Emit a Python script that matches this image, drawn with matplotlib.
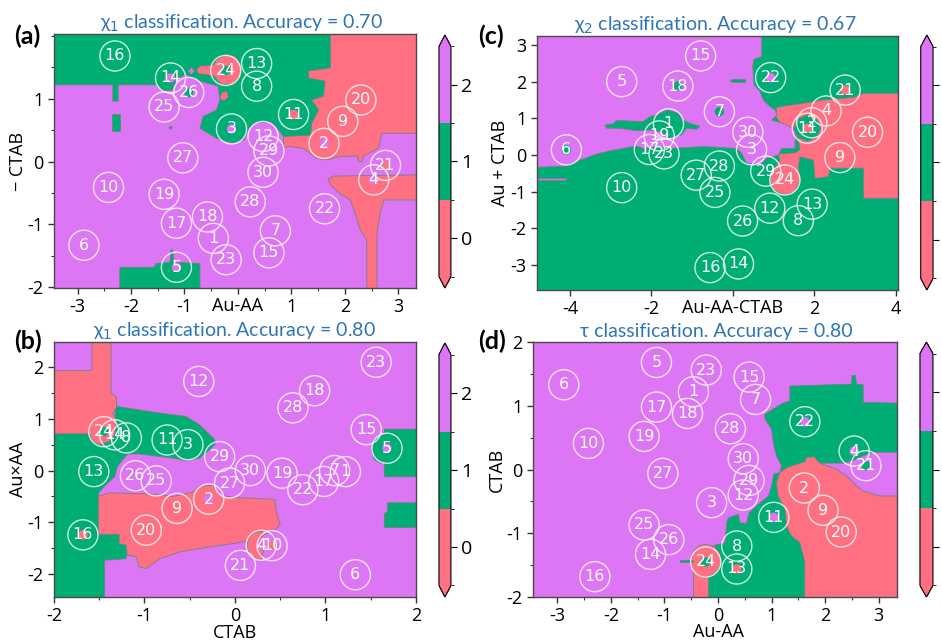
import matplotlib.pyplot as plt
from matplotlib.colors import ListedColormap, BoundaryNorm
from matplotlib.cm import ScalarMappable
from matplotlib.patches import Polygon
from matplotlib.ticker import MultipleLocator

plt.rcParams['font.family'] = ['Open Sans', 'DejaVu Sans']
plt.rcParams['axes.unicode_minus'] = False

PINK = '#ff7082'
GREEN = '#00ad74'
PURPLE = '#dd76f4'
class_colors = [PINK, GREEN, PURPLE]
EDGE = '#6f8580'
TITLE_BLUE = '#2e75b6'

# sample descriptors (samples 1..30)
sample_ids = list(range(1, 31))
au_aa = [-0.46, 1.61, -0.12, 2.54, -1.15, -2.88, 0.70, 0.35, 1.96, -2.42,
         1.04, 0.47, 0.35, -1.26, 0.58, -2.30, -1.15, -0.57, -1.38, 2.30,
         2.76, 1.62, -0.22, -0.23, -1.38, -0.92, -1.03, 0.23, 0.58, 0.47]
ctab = [1.22, -0.29, -0.52, 0.29, 1.68, 1.33, 1.10, -1.20, -0.64, 0.41,
        -0.75, -0.40, -1.56, -1.33, 1.45, -1.68, 0.98, 0.88, 0.52, -0.98,
        0.06, 0.75, 1.56, -1.45, -0.87, -1.10, -0.06, 0.64, -0.17, 0.17]
au_x_aa = [-0.02, -0.55, 0.50, -1.44, 0.43, -2.01, 0.0, 0.63, -0.73, -1.45,
           0.59, 1.72, -0.02, 0.69, 0.79, -1.24, -0.21, 1.54, -0.05, -1.15,
           -1.83, -0.37, 2.09, 0.75, -0.20, -0.10, -0.24, 1.21, 0.27, 0.0]
au_aa_ctab = [-1.58, 1.94, 0.46, 2.29, -2.73, -4.09, -0.33, 1.61, 2.63, -2.73,
              1.83, 0.91, 1.95, 0.14, -0.79, -0.56, -2.05, -1.35, -1.81, 3.31,
              2.76, 0.93, -1.69, 1.28, -0.44, 0.24, -0.90, -0.33, 0.81, 0.37]
au_plus_ctab = [0.85, 0.88, 0.14, 1.20, 2.00, 0.14, 1.18, -1.79, -0.07, -0.89,
                0.73, -1.45, -1.34, -2.97, 2.70, -3.07, 0.15, 1.88, 0.52, 0.62,
                1.77, 2.11, 0.03, -0.68, -1.02, -1.80, -0.55, -0.30, -0.44, 0.62]
minus_ctab = [-v for v in ctab]

# samples whose true class differs from the predicted region: id -> true class
wrong_a = {14: 2, 26: 1, 24: 1, 3: 2, 11: 0, 2: 2, 21: 0, 4: 2, 5: 2}
wrong_b = {24: 1, 5: 2, 2: 2, 16: 0, 10: 0, 4: 2}
wrong_c = {18: 1, 22: 2, 21: 0, 7: 1, 6: 1, 11: 0}
wrong_d = {22: 2, 4: 2, 21: 1, 11: 2, 24: 1, 13: 0}

accuracy = {'a': 0.70, 'b': 0.80, 'c': 0.67, 'd': 0.80}

# decision regions: (class, outline) painted in order over the background class
regions_a = [
    (0, [(1.73, 2.1), (3.4, 2.1), (3.4, 0.45), (2.69, 0.45), (2.66, 0.32), (2.63, 0.21),
         (2.35, 0.09), (2.32, 0.0), (2.26, 0.0), (2.23, 0.09), (1.91, 0.08), (1.66, 0.03),
         (1.475, 0.05), (1.225, 0.21), (0.975, 0.24), (0.85, 0.22), (0.85, 0.42), (1.3, 0.6),
         (1.3, 2.1)]),
    (0, [(1.69, -0.27), (1.79, -0.23), (3.4, -0.21), (3.4, -0.61), (2.73, -0.61), (2.66, -0.82),
         (2.60, -1.14), (2.60, -2.1), (2.41, -2.1), (2.41, -1.25), (2.29, -1.09), (2.19, -0.82),
         (2.10, -0.61), (1.91, -0.51), (1.73, -0.37)]),
    (1, [(-3.5, 2.1), (1.73, 2.1), (1.73, 1.49), (1.32, 1.44), (1.32, 1.33), (1.63, 1.28),
         (1.60, 1.04), (1.38, 0.98), (1.51, 0.82), (1.38, 0.61), (1.36, 0.42), (0.85, 0.40),
         (0.72, 0.55), (0.60, 0.63), (0.33, 0.62), (0.20, 0.52), (0.12, 0.35), (-0.09, 0.29),
         (-0.40, 0.37), (-0.71, 0.53), (-0.65, 0.72), (-0.40, 0.82), (-0.34, 0.98), (-0.37, 1.20),
         (-0.71, 1.28), (-0.96, 1.38), (-1.15, 1.33), (-1.21, 1.14), (-1.40, 1.12), (-1.53, 1.22),
         (-2.24, 1.22), (-2.24, 0.96), (-2.34, 0.96), (-2.34, 1.22), (-3.5, 1.22)]),
    (1, [(-2.21, -2.1), (-2.21, -1.68), (-1.56, -1.68), (-1.53, -1.62), (-1.27, -1.60),
         (-1.25, -1.40), (-1.22, -1.40), (-1.20, -1.60), (-0.71, -1.62), (-0.71, -2.1)]),
    (1, [(-2.35, 0.49), (-2.21, 0.49), (-2.21, 0.755), (-2.35, 0.755)]),
    (1, [(-1.29, 0.54), (-1.26, 0.57), (-1.23, 0.54), (-1.26, 0.51)]),
    (0, [(-0.775, 1.46), (-0.71, 1.52), (-0.46, 1.53), (-0.40, 1.62), (-0.23, 1.70), (-0.06, 1.68),
         (0.05, 1.54), (0.05, 1.36), (-0.09, 1.23), (-0.31, 1.23), (-0.46, 1.37), (-0.74, 1.40)]),
    (0, [(-0.34, 1.0), (-0.30, 1.10), (-0.20, 1.12), (-0.18, 1.02), (-0.26, 0.97)]),
    (2, [(-0.93, 1.44), (-0.87, 1.50), (-0.81, 1.44), (-0.87, 1.38)]),
]

regions_b = [
    (1, [(-2.1, 0.71), (-1.35, 0.71), (-1.315, 1.24), (-1.055, 1.17), (-0.83, 1.11), (-0.54, 1.045),
         (-0.39, 0.88), (-0.24, 0.63), (-0.21, 0.53), (-0.28, 0.40), (-0.39, 0.24), (-0.54, 0.19),
         (-0.685, 0.24), (-0.83, 0.27), (-1.055, 0.32), (-1.185, 0.32), (-1.24, 0.21), (-1.30, 0.08),
         (-1.33, -0.12), (-1.43, -0.28), (-1.50, -0.41), (-1.51, -0.50), (-1.20, -0.50),
         (-1.20, -1.70), (-1.44, -1.73), (-1.44, -2.6), (-2.1, -2.6)]),
    (0, [(-2.1, 1.93), (-1.58, 1.93), (-1.58, 2.6), (-1.37, 2.6), (-1.37, 1.50), (-1.31, 1.42),
         (-1.31, 1.21), (-1.35, 1.11), (-1.31, 0.98), (-1.315, 0.85), (-1.33, 0.69), (-1.39, 0.56),
         (-1.50, 0.50), (-1.57, 0.56), (-1.61, 0.71), (-2.1, 0.71)]),
    (0, [(-1.51, -0.50), (-1.39, -0.43), (-0.94, -0.45), (-0.685, -0.50), (-0.46, -0.41),
         (-0.39, -0.30), (-0.24, -0.28), (-0.17, -0.47), (-0.02, -0.52), (0.20, -0.535),
         (0.44, -0.555), (0.46, -0.83), (0.50, -1.02), (0.46, -1.12), (0.35, -1.21), (0.20, -1.34),
         (-0.02, -1.41), (-0.31, -1.48), (-0.61, -1.57), (-0.83, -1.70), (-0.98, -1.89),
         (-1.06, -1.86), (-1.09, -1.66), (-1.19, -1.63), (-1.20, -1.44), (-1.28, -1.41),
         (-1.28, -1.23), (-1.51, -1.23)]),
    (0, [(0.29, -1.16), (0.20, -1.20), (0.15, -1.31), (0.13, -1.44), (0.15, -1.57), (0.20, -1.68),
         (0.29, -1.73), (0.315, -1.535), (0.31, -1.34)]),
    (1, [(1.65, 0.80), (2.1, 0.80), (2.1, -0.12), (1.65, -0.12), (1.65, 0.17), (1.61, 0.14),
         (1.54, 0.21), (1.51, 0.40), (1.54, 0.59), (1.61, 0.69), (1.65, 0.71)]),
    (1, [(1.685, -0.62), (2.1, -0.62), (2.1, -1.10), (1.65, -1.10), (1.65, -0.83), (1.685, -0.79)]),
]

regions_c = [
    (0, [(4.1, 1.68), (4.1, -1.18), (3.21, -1.18), (3.21, -0.36), (2.39, -0.36), (2.35, -0.59),
         (2.02, -0.64), (1.98, -0.14), (1.65, -0.05), (1.61, -0.32), (1.65, -0.68), (1.53, -1.0),
         (1.28, -1.09), (1.0, -0.95), (0.91, -0.68), (1.04, -0.36), (1.16, -0.14), (1.12, 0.03),
         (1.53, 0.06), (1.65, 0.15), (1.61, 0.41), (1.445, 0.64), (1.20, 0.82), (1.06, 1.045),
         (1.08, 1.30), (1.405, 1.36), (1.73, 1.41), (2.22, 1.50), (2.96, 1.57), (3.21, 1.68)]),
    (2, [(-5, 3.4), (0.71, 3.4), (0.71, 2.68), (0.52, 2.61), (0.49, 2.41), (0.52, 1.91), (0.67, 1.73),
         (0.75, 1.50), (0.91, 1.32), (1.04, 1.23), (1.08, 1.09), (0.955, 0.95), (1.24, 0.86),
         (1.405, 0.77), (1.53, 0.64), (1.53, 0.18), (1.20, 0.18), (1.12, 0.0), (0.83, -0.09),
         (0.67, -0.27), (0.34, -0.23), (0.22, 0.05), (0.095, 0.18), (-0.72, 0.23), (-1.54, 0.18),
         (-1.87, 0.23), (-2.20, 0.18), (-2.38, 0.245), (-3.03, 0.11), (-3.36, 0.02), (-3.75, -0.14),
         (-4.10, -0.30), (-5, -0.345)]),
    (1, [(-3.14, 0.82), (-2.94, 0.85), (-2.85, 0.94), (-2.20, 0.91), (-2.03, 1.05), (-1.87, 1.09),
         (-1.62, 1.23), (-1.34, 1.14), (-1.215, 0.95), (-1.05, 0.86), (-0.81, 0.79), (-0.89, 0.70),
         (-1.13, 0.73), (-1.26, 0.55), (-1.54, 0.45), (-1.79, 0.64), (-2.03, 0.68), (-2.36, 0.66),
         (-2.77, 0.73), (-3.10, 0.73)]),
    (1, [(-0.07, 2.02), (0.0, 2.06), (0.30, 2.06), (0.33, 2.02), (0.30, 1.98), (0.0, 1.98)]),
    (1, [(2.16, 0.73), (2.06, 0.98), (1.83, 1.09), (1.60, 0.98), (1.50, 0.73), (1.60, 0.48),
         (1.83, 0.37), (2.06, 0.48)]),
    (2, [(-5, -0.63), (-4.10, -0.63), (-4.10, -0.69), (-5, -0.69)]),
]

regions_d = [
    (1, [(1.34, 1.31), (2.49, 1.34), (2.50, 1.475), (2.565, 1.475), (2.585, 1.34), (2.71, 1.33),
         (2.71, 1.055), (3.4, 1.04), (3.4, 0.27), (2.90, 0.27), (2.71, 0.215), (2.52, 0.14),
         (2.335, 0.10), (1.84, 0.10), (1.84, -1.15), (1.62, -1.15), (1.62, -2.05), (-0.18, -2.05),
         (-0.18, -1.23), (-0.03, -1.18), (0.13, -1.15), (0.16, -0.835), (0.19, -0.76), (0.38, -0.70),
         (0.41, -0.835), (0.53, -0.845), (0.58, -0.68), (0.75, -0.545), (0.94, -0.415), (1.0, -0.257),
         (1.04, -0.07), (1.155, -0.05), (1.185, 0.06), (1.09, 0.215), (1.03, 0.425), (1.0, 0.635),
         (0.875, 0.79), (0.875, 0.87), (1.03, 0.95), (1.185, 1.03), (1.34, 1.08)]),
    (0, [(3.4, -0.415), (3.4, -2.05), (1.62, -2.05), (1.62, -1.46), (1.53, -1.15), (1.37, -1.045),
         (1.28, -0.89), (1.25, -0.625), (1.12, -0.415), (1.09, -0.205), (1.155, -0.05), (1.28, 0.03),
         (1.53, 0.10), (1.62, 0.12), (1.65, 0.19), (1.80, 0.20), (1.84, 0.15), (1.90, 0.10),
         (2.21, 0.005), (2.40, -0.10), (2.585, -0.257), (2.71, -0.336), (3.02, -0.415)]),
    (0, [(-0.46, -2.05), (-0.46, -1.62), (-0.51, -1.46), (-0.46, -1.28), (-0.34, -1.19),
         (-0.23, -1.175), (-0.06, -1.21), (0.035, -1.33), (0.05, -1.49), (-0.04, -1.62),
         (-0.18, -1.675), (-0.18, -2.05)]),
    (1, [(-0.71, -1.42), (-0.46, -1.42), (-0.46, -1.45), (-0.71, -1.45)]),
]

cmap = ListedColormap(class_colors)
cmap.set_under(PINK)
cmap.set_over(PURPLE)
norm = BoundaryNorm([-0.5, 0.5, 1.5, 2.5], 3)

fig = plt.figure(figsize=(9.42, 6.41), dpi=100)


def draw_panel(ax, cax, x, y, background, regions, wrong, xlim, ylim):
    ax.set_facecolor(class_colors[background])
    for cls, verts in regions:
        ax.add_patch(Polygon(verts, closed=True, facecolor=class_colors[cls],
                             edgecolor=EDGE, linewidth=0.6, zorder=1))
    ids = list(wrong)
    ax.scatter([x[i - 1] for i in ids], [y[i - 1] for i in ids], s=45,
               c=[class_colors[wrong[i]] for i in ids], linewidths=0, zorder=3)
    ax.scatter(x, y, s=470, facecolors='none', edgecolors=(1, 1, 1, 0.8),
               linewidths=1.0, zorder=4)
    for i, xi, yi in zip(sample_ids, x, y):
        ax.text(xi, yi, str(i), ha='center', va='center', color='white',
                fontsize=11.5, family='DejaVu Sans', zorder=5)
    ax.set_xlim(xlim)
    ax.set_ylim(ylim)
    ax.tick_params(labelsize=13, length=4, width=1, color='#333333')
    ax.tick_params(which='minor', length=2, width=0.8, color='#333333')
    for sp in ax.spines.values():
        sp.set_color('#4a4a4a')
        sp.set_linewidth(1.0)

    cb = fig.colorbar(ScalarMappable(norm=norm, cmap=cmap), cax=cax,
                      extend='both', ticks=[0, 1, 2])
    cb.ax.tick_params(labelsize=14, length=4)
    cb.outline.set_linewidth(0.8)
    return cb


def set_title(ax, text, xpos):
    ax.set_title(text, color=TITLE_BLUE, fontsize=14, family=['Lato', 'DejaVu Sans'],
                 pad=3.5, x=xpos)


# (a) Au-AA vs -CTAB
ax_a = fig.add_axes([0.0573, 0.5507, 0.3843, 0.3963])
cax_a = fig.add_axes([0.4660, 0.5507, 0.0127, 0.3947])
draw_panel(ax_a, cax_a, au_aa, minus_ctab, 2, regions_a, wrong_a, (-3.44, 3.33), (-2.01, 2.03))
ax_a.set_xticks([-3, -2, -1, 0, 1, 2, 3])
ax_a.set_xticklabels(['-3', '-2', '-1', '', '1', '2', '3'])
ax_a.set_yticks([-2, -1, 0, 1])
ax_a.xaxis.set_minor_locator(MultipleLocator(0.5))
ax_a.yaxis.set_minor_locator(MultipleLocator(0.5))
ax_a.set_xlabel('Au-AA', fontsize=13)
ax_a.xaxis.set_label_coords(0, -0.035, transform=ax_a.get_xaxis_transform())
ax_a.set_ylabel('\u2212 CTAB', fontsize=13, labelpad=0)
set_title(ax_a, '\u03c7$_1$ classification. Accuracy = %.2f' % accuracy['a'], 0.517)

# (c) Au-AA-CTAB vs Au+CTAB
ax_c = fig.add_axes([0.5697, 0.5476, 0.3832, 0.3963])
cax_c = fig.add_axes([0.9774, 0.5476, 0.0131, 0.3978])
draw_panel(ax_c, cax_c, au_aa_ctab, au_plus_ctab, 1, regions_c, wrong_c, (-4.82, 4.05), (-3.68, 3.245))
ax_c.set_xticks([-4, -2, 0, 2, 4])
ax_c.set_xticklabels(['-4', '-2', '', '2', '4'])
ax_c.set_yticks([-3, -2, -1, 0, 1, 2, 3])
ax_c.set_xlabel('Au-AA-CTAB', fontsize=13)
ax_c.xaxis.set_label_coords(0, -0.035, transform=ax_c.get_xaxis_transform())
ax_c.set_ylabel('Au + CTAB', fontsize=13, labelpad=1)
set_title(ax_c, '\u03c7$_2$ classification. Accuracy = %.2f' % accuracy['c'], 0.494)

# (b) CTAB vs AuxAA
ax_b = fig.add_axes([0.0573, 0.0686, 0.3843, 0.3978])
cax_b = fig.add_axes([0.4660, 0.0686, 0.0127, 0.3963])
draw_panel(ax_b, cax_b, ctab, au_x_aa, 2, regions_b, wrong_b, (-2.0, 2.0), (-2.44, 2.48))
ax_b.set_xticks([-2, -1, 0, 1, 2])
ax_b.set_yticks([-2, -1, 0, 1, 2])
ax_b.xaxis.set_minor_locator(MultipleLocator(0.5))
ax_b.yaxis.set_minor_locator(MultipleLocator(0.5))
ax_b.set_xlabel('CTAB', fontsize=13, labelpad=-1)
ax_b.set_ylabel('Au\u00d7AA', fontsize=13, labelpad=0)
set_title(ax_b, '\u03c7$_1$ classification. Accuracy = %.2f' % accuracy['b'], 0.497)

# (d) Au-AA vs CTAB
ax_d = fig.add_axes([0.5655, 0.0686, 0.3867, 0.3978])
cax_d = fig.add_axes([0.9766, 0.0686, 0.0138, 0.3978])
draw_panel(ax_d, cax_d, au_aa, ctab, 2, regions_d, wrong_d, (-3.46, 3.34), (-2.0, 2.0))
ax_d.set_xticks([-3, -2, -1, 0, 1, 2, 3])
ax_d.set_yticks([-2, -1, 0, 1, 2])
ax_d.xaxis.set_minor_locator(MultipleLocator(0.5))
ax_d.yaxis.set_minor_locator(MultipleLocator(0.5))
ax_d.set_xlabel('Au-AA', fontsize=13)
ax_d.xaxis.set_label_coords(0, -0.1, transform=ax_d.get_xaxis_transform())
ax_d.set_ylabel('CTAB', fontsize=13, labelpad=0)
set_title(ax_d, '\u03c4 classification. Accuracy = %.2f' % accuracy['d'], 0.505)

# panel letters
for letter, (px, py) in {'(a)': (27.5, 36.5), '(b)': (27.5, 341.5),
                         '(c)': (491, 36), '(d)': (492, 341.5)}.items():
    fig.text(px / 942, 1 - py / 641, letter, fontsize=18, fontweight='bold',
             family=['Lato', 'DejaVu Sans'], ha='center', va='center')

fig.savefig('out.png', dpi=100)
